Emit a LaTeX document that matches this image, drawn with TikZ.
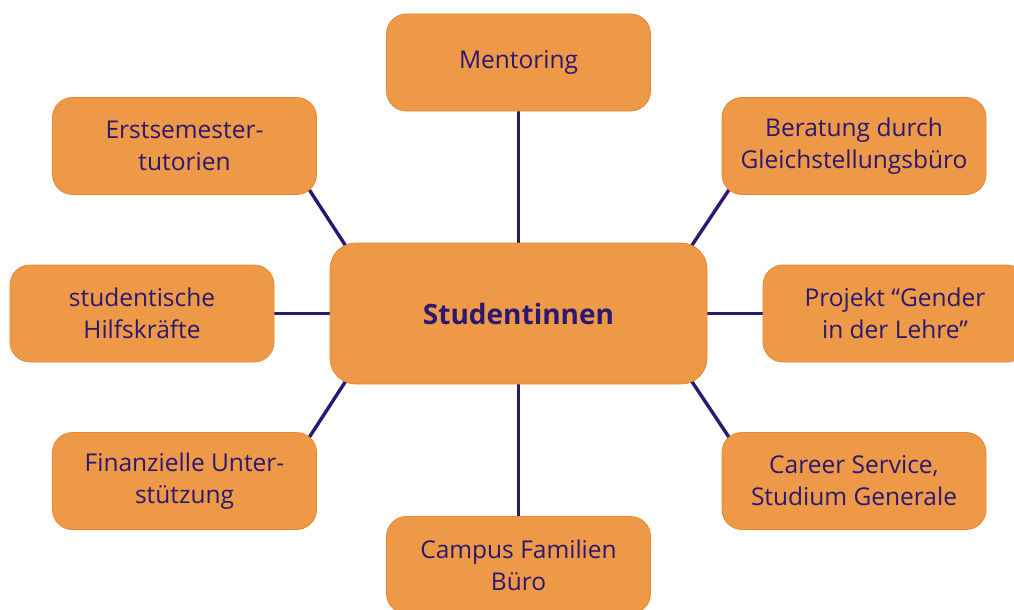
\documentclass[tikz,border=0pt]{standalone}
\usepackage{fontspec}
\setmainfont{Open Sans}
\usetikzlibrary{calc,backgrounds}
\definecolor{boxfill}{HTML}{EE9948}
\definecolor{boxline}{HTML}{E8862E}
\definecolor{ink}{HTML}{2B1870}
\tikzset{
  box/.style={draw=boxline, line width=0.8pt, fill=boxfill, rounded corners=20pt,
    minimum width=264pt, minimum height=97pt, align=center, text=ink,
    font=\fontsize{24.5}{32}\selectfont, inner sep=0pt},
  hub/.style={box, rounded corners=26pt, minimum width=377pt, minimum height=141pt,
    font=\fontsize{28}{32}\selectfont\bfseries},
  conn/.style={draw=ink, line width=3.4pt}
}
\begin{document}
\begin{tikzpicture}[x=1pt,y=-1pt]
\useasboundingbox (0,0) rectangle (1014,610);
\clip (0,0) rectangle (1014,610);
\node[hub] (center) at (518.5,313.5) {Studentinnen};
\node[box] (ment) at (518.5,62.5) {Mentoring};
\node[box] (erst) at (184.5,146) {Erstsemester-\\tutorien};
\node[box] (bera) at (854,146) {Beratung durch\\Gleichstellungsbüro};
\node[box] (stud) at (142,313.5) {studentische\\Hilfskräfte};
\node[box] (proj) at (895,313.5) {Projekt “Gender\\in der Lehre”};
\node[box] (fina) at (184.5,481) {Finanzielle Unter-\\stützung};
\node[box] (care) at (854,481) {Career Service,\\Studium Generale};
\node[box] (camp) at (518.5,565) {Campus Familien\\Büro};
\begin{scope}[on background layer]
\draw[conn] (ment) -- (center);
\draw[conn] (center) -- (camp);
\draw[conn] (stud.east) -- (center.west);
\draw[conn] (center.east) -- (proj.west);
\draw[conn] ([shift={(-14,-15)}]erst.south east) -- ([shift={(25,17)}]center.north west);
\draw[conn] ([shift={(14,-15)}]bera.south west) -- ([shift={(-25,17)}]center.north east);
\draw[conn] ([shift={(-14,15)}]fina.north east) -- ([shift={(25,-17)}]center.south west);
\draw[conn] ([shift={(14,15)}]care.north west) -- ([shift={(-25,-17)}]center.south east);
\end{scope}
\end{tikzpicture}
\end{document}
